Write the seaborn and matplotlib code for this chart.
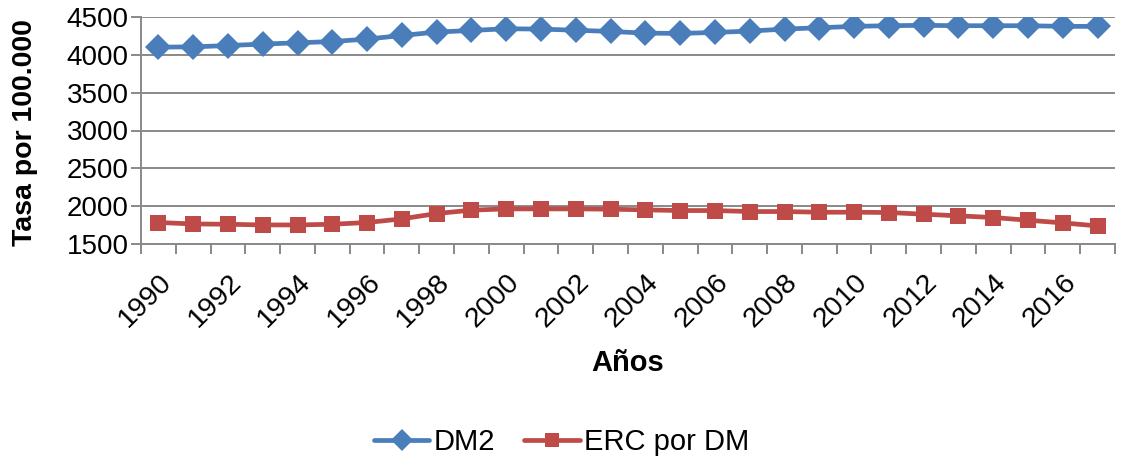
import matplotlib
matplotlib.use("Agg")
import matplotlib.pyplot as plt
import seaborn as sns
import pandas as pd
from matplotlib.ticker import FixedLocator
from matplotlib.lines import Line2D

years = list(range(1990, 2018))
dm2 = [4102, 4105, 4123, 4142, 4159, 4176, 4208, 4256, 4301, 4322, 4345, 4340, 4325, 4309,
       4287, 4283, 4296, 4314, 4340, 4358, 4376, 4385, 4390, 4385, 4385, 4385, 4376, 4376]
erc = [1784, 1765, 1761, 1752, 1752, 1761, 1784, 1832, 1903, 1947, 1964, 1964, 1964, 1960,
       1951, 1942, 1942, 1929, 1929, 1920, 1920, 1916, 1894, 1872, 1850, 1814, 1779, 1739]
series_names = ["DM2", "ERC por DM"]
tick_years = list(range(1990, 2017, 2))

df = pd.DataFrame({
    "Año": years * 2,
    "Valor": dm2 + erc,
    "Serie": [series_names[0]] * len(years) + [series_names[1]] * len(years),
})

sns.set_theme(style="white")
plt.rcParams["font.family"] = ["Liberation Sans", "DejaVu Sans"]
plt.rcParams["text.color"] = "black"
plt.rcParams["axes.labelcolor"] = "black"

fig = plt.figure(figsize=(11.28, 4.59), dpi=100)
ax = fig.add_axes([141 / 1128, 1 - 244 / 459, (1115 - 141) / 1128, (244 - 17) / 459])

palette = {"DM2": "#4A7EBB", "ERC por DM": "#BE4B48"}
sns.lineplot(data=df[df["Serie"] == "DM2"], x="Año", y="Valor", color=palette["DM2"],
             marker="D", markersize=13, markeredgewidth=0, linewidth=3.4, ax=ax)
sns.lineplot(data=df[df["Serie"] == "ERC por DM"], x="Año", y="Valor", color=palette["ERC por DM"],
             marker="s", markersize=11, markeredgewidth=0, linewidth=3.4, ax=ax)

ax.set_xlim(1989.5, 2017.5)
ax.set_ylim(1500, 4500)
ax.set_yticks(range(1500, 4501, 500))
ax.yaxis.grid(True, color="#898989", linewidth=1.4)
ax.set_axisbelow(True)

ax.set_xticks(tick_years)
ax.set_xticklabels([str(y) for y in tick_years], rotation=45, ha="right",
                   rotation_mode="anchor", fontsize=20.5)
ax.xaxis.set_minor_locator(FixedLocator([y + 0.5 for y in range(1989, 2018)]))
ax.tick_params(axis="x", which="major", length=0, pad=18, labelcolor="black")
ax.tick_params(axis="x", which="minor", length=7, width=1.4, color="#898989", direction="out", bottom=True)
ax.tick_params(axis="y", length=7, width=1.4, color="#898989", direction="out", left=True,
               labelsize=20, pad=2, labelcolor="black")

for s in ["top", "right"]:
    ax.spines[s].set_visible(False)
for s in ["left", "bottom"]:
    ax.spines[s].set_color("#898989")
    ax.spines[s].set_linewidth(1.4)

ax.set_xlabel("Años", fontsize=21, fontweight="bold", labelpad=12, color="black")
ax.set_ylabel("Tasa por 100.000", fontsize=20.5, fontweight="bold", color="black")
ax.yaxis.set_label_coords(-0.106, 0.49)

handles = [Line2D([0], [0], color=palette["DM2"], marker="D", lw=3.4, ms=11, mew=0),
           Line2D([0], [0], color=palette["ERC por DM"], marker="s", lw=3.4, ms=10, mew=0)]
leg = fig.legend(handles, series_names, loc="center", bbox_to_anchor=(0.498, 1 - 442 / 459), ncol=2,
                 frameon=False, fontsize=21, handlelength=1.9, handletextpad=0.15, columnspacing=1.0)
for t in leg.get_texts():
    t.set_color("black")

fig.savefig("out.png", dpi=100)
